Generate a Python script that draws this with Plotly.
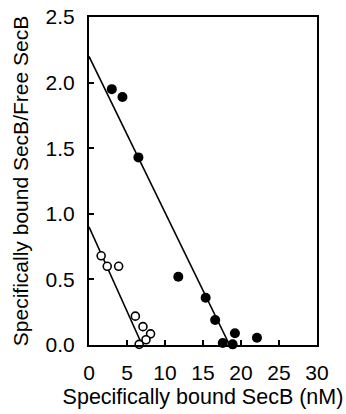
import plotly.graph_objects as go

# Filled circles (data set 1)
filled_x = [3.0, 4.4, 6.5, 11.75, 15.35, 16.6, 17.6, 18.9, 19.2, 22.1]
filled_y = [1.95, 1.89, 1.43, 0.52, 0.36, 0.19, 0.015, 0.005, 0.09, 0.055]

# Open circles (data set 2)
open_x = [1.6, 2.4, 3.9, 6.1, 7.1, 8.1, 7.5, 6.6]
open_y = [0.68, 0.60, 0.60, 0.22, 0.14, 0.085, 0.04, 0.005]

# Fitted lines (Scatchard fits)
filled_fit_x = [0, 18.5]
filled_fit_y = [2.2, 0.0]
open_fit_x = [0, 7.0]
open_fit_y = [0.9, 0.0]

x_ticks = [0, 5, 10, 15, 20, 25, 30]
y_ticks = [0.0, 0.5, 1.0, 1.5, 2.0, 2.5]

fig = go.Figure()
fig.add_trace(go.Scatter(x=filled_fit_x, y=filled_fit_y, mode="lines",
                         line=dict(color="black", width=1.6), showlegend=False, cliponaxis=False))
fig.add_trace(go.Scatter(x=open_fit_x, y=open_fit_y, mode="lines",
                         line=dict(color="black", width=1.6), showlegend=False, cliponaxis=False))
fig.add_trace(go.Scatter(x=filled_x, y=filled_y, mode="markers",
                         marker=dict(symbol="circle", size=10, color="black",
                                     line=dict(width=0)),
                         showlegend=False, cliponaxis=False))
fig.add_trace(go.Scatter(x=open_x, y=open_y, mode="markers",
                         marker=dict(symbol="circle", size=8, color="white",
                                     line=dict(color="black", width=1.6)),
                         showlegend=False, cliponaxis=False))

font = "Liberation Sans, Arial, Helvetica, sans-serif"
fig.update_layout(
    width=346, height=414,
    margin=dict(l=89, r=29, t=17, b=69, autoexpand=False),
    plot_bgcolor="white", paper_bgcolor="white",
    font=dict(family=font, size=21, color="black"),
    showlegend=False,
)
fig.update_xaxes(
    range=[0, 30], tickvals=x_ticks, ticktext=[str(v) for v in x_ticks],
    showline=True, linecolor="black", linewidth=2, mirror=True,
    ticks="inside", ticklen=5, tickwidth=1.5, tickcolor="black",
    showgrid=False, zeroline=False, ticklabelstandoff=8, automargin=False,
    ticklabeloverflow="allow",
    title=dict(text="Specifically bound SecB (nM)", font=dict(size=21.5), standoff=6),
    tickfont=dict(size=21),
)
fig.update_yaxes(
    range=[0, 2.5], tickvals=y_ticks, ticktext=[f"{v:.1f}" for v in y_ticks],
    showline=True, linecolor="black", linewidth=2, mirror=True,
    ticks="inside", ticklen=5, tickwidth=1.5, tickcolor="black",
    showgrid=False, zeroline=False, ticklabelstandoff=8, automargin=False,
    ticklabeloverflow="allow",
    title=dict(text="Specifically bound SecB/Free SecB", font=dict(size=21), standoff=11),
    tickfont=dict(size=21),
)

fig.write_html(
    "out.html",
    config={"displayModeBar": False},
    post_script="document.body.style.margin='0';document.body.style.overflow='hidden';",
)
